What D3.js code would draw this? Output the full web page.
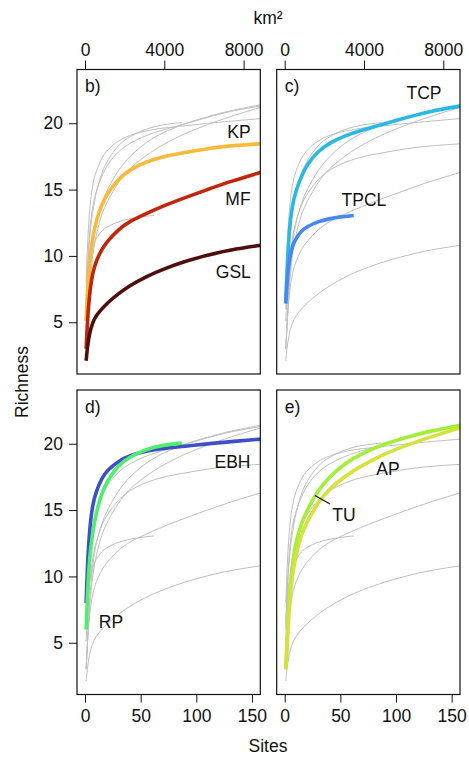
<!DOCTYPE html>
<html><head><meta charset="utf-8">
<script src="https://cdn.jsdelivr.net/npm/d3@7/dist/d3.min.js"></script>
<style>
body{margin:0;background:#fff}
svg{display:block}
text{font-family:"Liberation Sans",Arial,Helvetica,sans-serif;font-size:17.5px;fill:#111}
</style>
</head><body>
<svg id="chart" width="469" height="757"></svg>
<script>
// ---- data ----
const sites     = [1, 2, 4, 7, 10, 15, 20, 30, 40, 55, 70, 90, 110, 130, 158];
const sitesTPCL = [1, 2, 4, 7, 10, 15, 20, 30, 40, 50, 62];
const sitesRP   = [1, 2, 4, 7, 10, 15, 20, 30, 40, 55, 70, 87];

const KP   = [5.1, 7.0, 9.6, 11.5, 12.6, 13.9, 14.7, 15.8, 16.5, 17.1, 17.5, 17.8, 18.1, 18.3, 18.45];
const MF   = [3.0, 4.8, 7.2, 8.8, 9.6, 10.5, 11.1, 12.0, 12.6, 13.2, 13.75, 14.4, 15.0, 15.6, 16.3];
const GSL  = [2.1, 3.0, 4.2, 5.0, 5.5, 6.0, 6.45, 7.15, 7.75, 8.45, 9.0, 9.6, 10.05, 10.45, 10.8];
const TCP  = [6.6, 8.8, 12.0, 13.9, 14.9, 16.0, 16.9, 17.9, 18.5, 19.1, 19.5, 19.95, 20.45, 20.9, 21.3];
const TPCL = [6.4, 8.0, 9.7, 10.8, 11.3, 11.9, 12.2, 12.6, 12.8, 12.95, 13.05];
const EBH  = [8.0, 10.5, 13.6, 15.5, 16.4, 17.4, 18.0, 18.7, 19.1, 19.45, 19.65, 19.8, 20.0, 20.15, 20.35];
const RP   = [6.0, 8.3, 11.5, 13.4, 14.8, 16.3, 17.2, 18.4, 19.0, 19.6, 19.9, 20.05];
const AP   = [3.0, 4.5, 7.8, 10.2, 11.6, 13.2, 14.1, 15.6, 16.6, 17.6, 18.4, 19.25, 19.9, 20.5, 21.2];
const TU   = [3.1, 4.8, 8.3, 11.0, 12.6, 14.0, 15.0, 16.5, 17.5, 18.6, 19.3, 20.0, 20.5, 20.95, 21.4];

const siteTicks = [0, 50, 100, 150];
const kmTicks   = [0, 4000, 8000];
const richTicks = [5, 10, 15, 20];
const kmPerSite = 56.14;

// table built from the arrays
const curves = [
  {name: "KP",   x: sites,     y: KP,   color: "#F9B93B"},
  {name: "MF",   x: sites,     y: MF,   color: "#C1260B"},
  {name: "GSL",  x: sites,     y: GSL,  color: "#4F0E0E"},
  {name: "TCP",  x: sites,     y: TCP,  color: "#2BB9E4"},
  {name: "TPCL", x: sitesTPCL, y: TPCL, color: "#4787F4"},
  {name: "EBH",  x: sites,     y: EBH,  color: "#3E50C5"},
  {name: "RP",   x: sitesRP,   y: RP,   color: "#4FEE6C"},
  {name: "TU",   x: sites,     y: TU,   color: "#A2EF3A"},
  {name: "AP",   x: sites,     y: AP,   color: "#D6E23A"}
];
const byName = Object.fromEntries(curves.map(c => [c.name, c]));

// ---- layout ----
const W = 183.3, H = 304.5;
const panels = [
  {x0: 77,    y0: 69.5, letter: "b)", hi: ["KP", "MF", "GSL"], left: true, top: true,
   labels: [["KP", 162, 68.8], ["MF", 161, 135.5], ["GSL", 156.3, 208.8]]},
  {x0: 276.7, y0: 69.5, letter: "c)", hi: ["TCP", "TPCL"], top: true,
   labels: [["TCP", 147.3, 29.8], ["TPCL", 87.3, 136.2]]},
  {x0: 77,    y0: 390,  letter: "d)", hi: ["EBH", "RP"], left: true, bottom: true,
   labels: [["EBH", 155.5, 78.3], ["RP", 34, 238.3]]},
  {x0: 276.7, y0: 390,  letter: "e)", hi: ["TU", "AP"], bottom: true,
   labels: [["AP", 111.3, 85], ["TU", 67.3, 131]], pointer: [38.3, 105.5, 53.3, 114]}
];

const x = d3.scaleLinear().domain([-7.2, 157.5]).range([0, W]);
const xKm = d3.scaleLinear().domain(x.domain().map(d => d * kmPerSite)).range([0, W]);
const y = d3.scaleLinear().domain([1.1, 24.05]).range([H, 0]);

const svg = d3.select("#chart");
const defs = svg.append("defs");
defs.append("clipPath").attr("id", "clip").append("rect")
  .attr("x", 0).attr("y", 0).attr("width", W).attr("height", H);

const line = (c) => d3.line()
  .x((d, i) => x(c.x[i])).y(d => y(d))
  .curve(d3.curveBasis)(c.y);

panels.forEach(p => {
  const g = svg.append("g").attr("transform", `translate(${p.x0},${p.y0})`);
  const plot = g.append("g").attr("clip-path", "url(#clip)");
  curves.filter(c => !p.hi.includes(c.name)).forEach(c => {
    plot.append("path").attr("d", line(c)).attr("fill", "none")
      .attr("stroke", "#BEBEBE").attr("stroke-width", 1);
  });
  p.hi.forEach(n => {
    const c = byName[n];
    plot.append("path").attr("d", line(c)).attr("fill", "none")
      .attr("stroke", c.color).attr("stroke-width", 3.6);
  });
  g.append("rect").attr("x", 0).attr("y", 0).attr("width", W).attr("height", H)
    .attr("fill", "none").attr("stroke", "#111").attr("stroke-width", 1.2);
  g.append("text").attr("x", 8).attr("y", 22.5).text(p.letter);
  p.labels.forEach(([t, lx, ly]) => {
    g.append("text").attr("x", lx).attr("y", ly).attr("text-anchor", "middle").text(t);
  });
  if (p.pointer) {
    const [a, b, c2, d] = p.pointer;
    g.append("line").attr("x1", a).attr("y1", b).attr("x2", c2).attr("y2", d)
      .attr("stroke", "#111").attr("stroke-width", 1.4);
  }
  const style = ax => {
    ax.select(".domain").remove();
    ax.selectAll("text").style("font-size", "17.5px").attr("fill", "#111");
    ax.selectAll("line").attr("stroke", "#111");
  };
  if (p.left) {
    g.append("g").call(d3.axisLeft(y).tickValues(richTicks).tickSize(8).tickPadding(6)).call(style);
  }
  if (p.top) {
    g.append("g").call(d3.axisTop(xKm).tickValues(kmTicks).tickFormat(d3.format("d"))
      .tickSize(9).tickPadding(5)).call(style);
  }
  if (p.bottom) {
    g.append("g").attr("transform", `translate(0,${H})`)
      .call(d3.axisBottom(x).tickValues(siteTicks).tickSize(8).tickPadding(7)).call(style);
  }
});

svg.append("text").attr("x", 268).attr("y", 24).attr("text-anchor", "middle").text("km²");
svg.append("text").attr("x", 268).attr("y", 752).attr("text-anchor", "middle").text("Sites");
svg.append("text").attr("transform", "translate(28,382) rotate(-90)")
  .attr("text-anchor", "middle").text("Richness");
</script>
</body></html>
